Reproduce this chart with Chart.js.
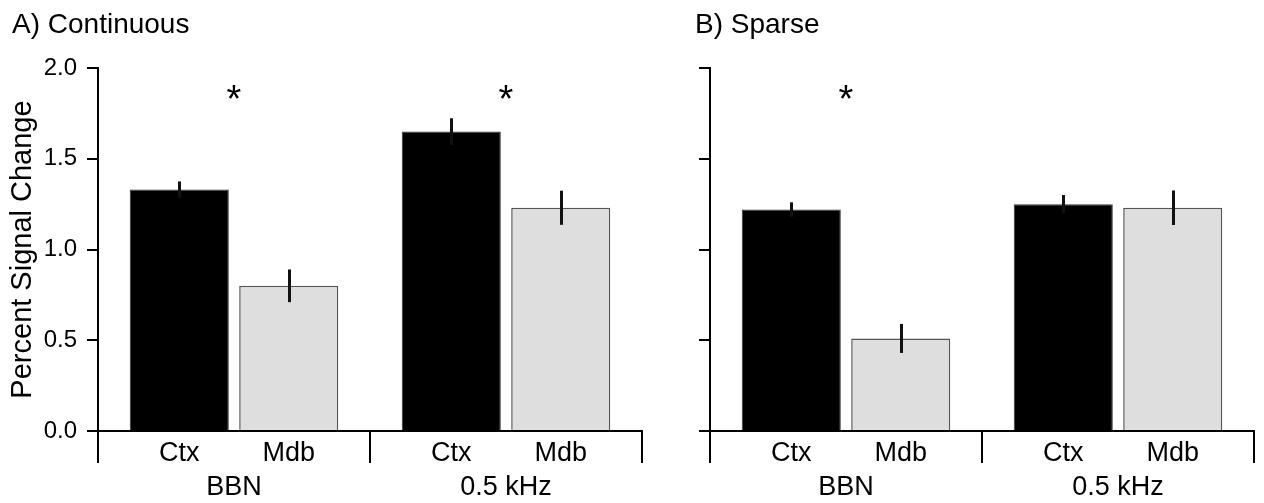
<!DOCTYPE html>
<html>
<head>
<meta charset="utf-8">
<script src="https://cdn.jsdelivr.net/npm/chart.js@4"></script>
<style>
  html, body { margin: 0; padding: 0; background: #fff; }
  #wrap { position: relative; width: 1264px; height: 503px; }
  #wrap canvas { position: absolute; top: 0; }
  #chartA { left: 0; }
  #chartB { left: 640px; }
</style>
</head>
<body>
<div id="wrap">
  <canvas id="chartA" width="646" height="503"></canvas>
  <canvas id="chartB" width="624" height="503"></canvas>
</div>
<script>
// datos
const grupos = ["BBN", "0.5 kHz"];
const regiones = ["Ctx", "Mdb"];

const contCtx = [1.33, 1.65];
const contCtxSem = [0.045, 0.073];
const contMdb = [0.80, 1.23];
const contMdbSem = [0.09, 0.094];
const contSig = [true, true];

const sparseCtx = [1.22, 1.25];
const sparseCtxSem = [0.04, 0.05];
const sparseMdb = [0.51, 1.23];
const sparseMdbSem = [0.08, 0.095];
const sparseSig = [true, false];

const yMin = 0;
const yMax = 2;
const yStep = 0.5;

const fuente = "'Liberation Sans', Arial, sans-serif";

// barras de error, etiquetas Ctx/Mdb, asteriscos y titulo del panel
const extras = {
  id: "extras",
  afterDatasetsDraw(chart, args, opts) {
    const ctx = chart.ctx;
    const y = chart.scales.y;
    ctx.save();
    ctx.strokeStyle = "#111";
    ctx.lineWidth = 3;
    chart.data.datasets.forEach((ds, d) => {
      const meta = chart.getDatasetMeta(d);
      meta.data.forEach((bar, i) => {
        const m = ds.data[i];
        const s = ds.sem[i];
        ctx.beginPath();
        ctx.moveTo(Math.round(bar.x) + 0.5, y.getPixelForValue(m - s));
        ctx.lineTo(Math.round(bar.x) + 0.5, y.getPixelForValue(m + s));
        ctx.stroke();
      });
    });
    ctx.restore();
  },
  afterDraw(chart, args, opts) {
    const ctx = chart.ctx;
    const area = chart.chartArea;
    ctx.save();
    ctx.fillStyle = "#000";

    // nombres de region debajo de cada barra
    ctx.font = "27px " + fuente;
    ctx.textAlign = "center";
    ctx.textBaseline = "middle";
    chart.data.datasets.forEach((ds, d) => {
      chart.getDatasetMeta(d).data.forEach((bar) => {
        ctx.fillText(ds.label, bar.x, area.bottom + 23);
      });
    });

    // asteriscos de significancia
    ctx.font = "38px " + fuente;
    ctx.textBaseline = "alphabetic";
    const m0 = chart.getDatasetMeta(0).data;
    const m1 = chart.getDatasetMeta(1).data;
    opts.sig.forEach((s, i) => {
      if (!s) return;
      const cx = (m0[i].x + m1[i].x) / 2;
      ctx.fillText("*", cx, area.top + 44);
    });

    // titulo del panel
    ctx.font = "28px " + fuente;
    ctx.textAlign = "left";
    ctx.fillText(opts.titulo, opts.tituloX, 33);
    ctx.restore();
  }
};

function crearPanel(id, ctxVals, ctxSem, mdbVals, mdbSem, sig, titulo, tituloX, conEtiquetas, ancho, derecha) {
  return new Chart(document.getElementById(id), {
    type: "bar",
    data: {
      labels: grupos,
      datasets: [
        {
          label: regiones[0],
          data: ctxVals,
          sem: ctxSem,
          backgroundColor: "#000",
          borderColor: "#333",
          borderWidth: 1
        },
        {
          label: regiones[1],
          data: mdbVals,
          sem: mdbSem,
          backgroundColor: "#dedede",
          borderColor: "#555",
          borderWidth: 1.5
        }
      ]
    },
    options: {
      responsive: false,
      animation: false,
      layout: { padding: { top: 68, right: derecha, bottom: 0, left: 0 } },
      categoryPercentage: 0.805,
      barPercentage: 0.905,
      plugins: {
        legend: { display: false },
        tooltip: { enabled: false },
        extras: { sig: sig, titulo: titulo, tituloX: tituloX }
      },
      scales: {
        x: {
          offset: true,
          grid: {
            offset: true,
            drawOnChartArea: false,
            drawTicks: true,
            tickLength: 32,
            color: "#000",
            lineWidth: 2
          },
          border: { display: true, color: "#000", width: 2 },
          ticks: {
            color: "#000",
            padding: 8,
            font: { family: fuente, size: 27 }
          },
          afterFit(scale) { scale.height = 72; }
        },
        y: {
          min: yMin,
          max: yMax,
          grid: {
            drawOnChartArea: false,
            drawTicks: true,
            tickLength: 11,
            color: "#000",
            lineWidth: 2
          },
          border: { display: true, color: "#000", width: 2 },
          ticks: {
            stepSize: yStep,
            padding: 10,
            color: conEtiquetas ? "#000" : "rgba(0,0,0,0)",
            font: { family: fuente, size: 24 },
            callback: (v) => Number(v).toFixed(1)
          },
          title: {
            display: conEtiquetas,
            text: "Percent Signal Change",
            color: "#000",
            font: { family: fuente, size: 29 },
            padding: { top: 6, bottom: 0 }
          },
          afterFit(scale) { scale.width = ancho; }
        }
      }
    },
    plugins: [extras]
  });
}

crearPanel("chartA", contCtx, contCtxSem, contMdb, contMdbSem, contSig, "A) Continuous", 12, true, 98, 4);
crearPanel("chartB", sparseCtx, sparseCtxSem, sparseMdb, sparseMdbSem, sparseSig, "B) Sparse", 695 - 640, false, 70, 10);
</script>
</body>
</html>
